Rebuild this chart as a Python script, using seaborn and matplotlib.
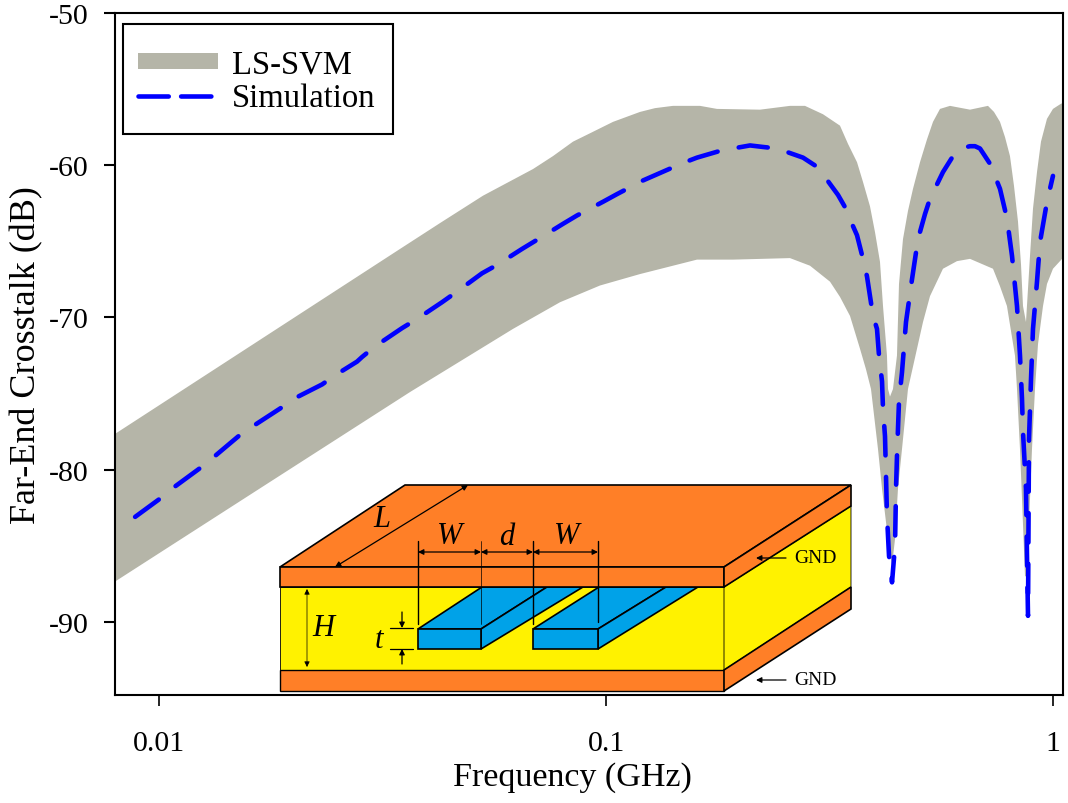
"""Far-end crosstalk vs frequency: LS-SVM band, simulation curve, stripline sketch."""

import matplotlib.pyplot as plt
import numpy as np
import pandas as pd
import seaborn as sns
from matplotlib.lines import Line2D
from matplotlib.patches import Patch, Polygon, Rectangle

SIM_FREQ = [
    0.00884, 0.01016, 0.01086, 0.01248, 0.01334, 0.01534, 0.0164, 0.01884, 0.02015, 0.02316,
    0.02476, 0.02773, 0.02845, 0.03042, 0.03497, 0.03777, 0.04296, 0.04642, 0.05279, 0.05703,
    0.06487, 0.07009, 0.08013, 0.08612, 0.09847, 0.1058, 0.121, 0.13, 0.1487, 0.1598,
    0.1827, 0.1964, 0.21, 0.2245, 0.2413, 0.258, 0.2759, 0.2965, 0.3138, 0.3304,
    0.3425, 0.3551, 0.3644, 0.3739, 0.3836, 0.3957, 0.4039, 0.4081, 0.4145, 0.4166,
    0.4209, 0.4231, 0.4252, 0.4297, 0.4364, 0.4432, 0.4455, 0.4477, 0.4524, 0.4594,
    0.469, 0.4837, 0.4989, 0.5173, 0.5307, 0.5674, 0.5975, 0.6194, 0.6522, 0.6691,
    0.6866, 0.7045, 0.7228, 0.7611, 0.789, 0.8097, 0.8308, 0.8437, 0.8525, 0.8569,
    0.8702, 0.8747, 0.8793, 0.8838, 0.893, 0.9022, 0.921, 0.9354, 0.9696, 1.0,
]
SIM_DB = [
    -83.1, -81.8, -81.1, -79.8, -79.1, -77.6, -77.05, -75.9, -75.3, -74.4,
    -73.8, -72.9, -72.6, -71.9, -70.7, -70.1, -69.0, -68.3, -67.1, -66.55,
    -65.5, -64.9, -63.85, -63.3, -62.4, -61.9, -61.0, -60.6, -59.85, -59.5,
    -59.0, -58.85, -58.7, -58.8, -58.9, -59.2, -59.5, -60.1, -61.05, -61.95,
    -62.75, -63.85, -64.6, -65.9, -67.3, -69.9, -70.75, -72.5, -74.2, -76.0,
    -77.8, -80.4, -83.0, -85.65, -87.4, -85.0, -81.25, -79.1, -75.5, -73.6,
    -70.3, -67.5, -64.85, -63.2, -62.2, -60.45, -59.4, -58.9, -58.75, -58.75,
    -58.9, -59.4, -59.9, -61.55, -63.5, -65.95, -69.25, -72.5, -75.35, -77.5,
    -81.25, -85.65, -89.6, -78.0, -74.05, -70.75, -67.65, -65.05, -62.4, -60.7,
]

UPPER_FREQ = [
    0.00797, 0.0346, 0.04252, 0.05307, 0.06866, 0.0761, 0.08437, 0.0921, 0.1037, 0.1191,
    0.1287, 0.1412, 0.1623, 0.1771, 0.2211, 0.258, 0.2787, 0.3058, 0.3338, 0.3479,
    0.3644, 0.3758, 0.3896, 0.3998, 0.4102, 0.4166, 0.4252, 0.4275, 0.4319, 0.4386,
    0.4477, 0.4524, 0.4618, 0.4738, 0.4862, 0.5041, 0.5226, 0.539, 0.5588, 0.5883,
    0.6522, 0.7155, 0.738, 0.7611, 0.781, 0.8013, 0.818, 0.8351, 0.8481, 0.8569,
    0.8702, 0.8884, 0.9022, 0.921, 0.9401, 0.9696, 1.0, 1.037, 1.053,
]
UPPER_DB = [
    -77.65, -65.5, -63.8, -62.0, -60.25, -59.4, -58.45, -57.9, -57.15, -56.5,
    -56.25, -56.1, -56.1, -56.3, -56.35, -56.1, -56.1, -56.65, -57.4, -58.6,
    -59.8, -61.1, -62.7, -64.4, -66.35, -69.25, -72.5, -74.7, -75.2, -74.7,
    -72.5, -67.8, -64.85, -63.0, -61.55, -59.8, -58.3, -57.15, -56.3, -56.1,
    -56.35, -56.1, -56.5, -57.15, -58.15, -59.4, -61.35, -63.7, -66.5, -69.25,
    -70.3, -65.95, -62.85, -60.45, -58.45, -56.95, -56.3, -56.0, -55.9,
]
LOWER_FREQ = [
    0.00797, 0.01772, 0.03643, 0.06194, 0.0789, 0.09696, 0.1191, 0.1598, 0.1924, 0.258,
    0.286, 0.3171, 0.3338, 0.3515, 0.37, 0.3816, 0.3916, 0.406, 0.4145, 0.4275,
    0.4364, 0.4432, 0.45, 0.4594, 0.4738, 0.5119, 0.5307, 0.5674, 0.6099, 0.6522,
    0.7342, 0.7611, 0.789, 0.8056, 0.8222, 0.8308, 0.8437, 0.8525, 0.8658, 0.8747,
    0.8884, 0.8975, 0.9115, 0.9258, 0.9499, 0.9696, 1.0, 1.048, 1.053,
]
LOWER_DB = [
    -87.35, -80.8, -74.9, -70.75, -69.0, -67.9, -67.15, -66.2, -66.2, -66.1,
    -66.6, -67.65, -68.65, -69.9, -72.05, -73.4, -74.7, -78.65, -81.25, -84.55,
    -86.3, -84.55, -81.25, -78.65, -74.7, -70.3, -68.6, -66.8, -66.3, -66.15,
    -66.8, -67.95, -69.25, -70.9, -72.5, -74.7, -78.65, -81.9, -87.0, -87.0,
    -81.9, -78.65, -74.7, -71.75, -69.25, -67.8, -66.8, -66.15, -66.1,
]

X_TICKS = [0.01, 0.1, 1]
X_TICK_LABELS = ["0.01", "0.1", "1"]
Y_TICKS = [-50, -60, -70, -80, -90]
Y_TICK_LABELS = ["-50", "-60", "-70", "-80", "-90"]

BAND = "#B5B5A8"
BLUE = "#0000FF"
ORANGE = "#FF7F27"
YELLOW = "#FFF200"
CYAN = "#00A2E8"

sns.set_theme(
    style="ticks",
    rc={
        "text.color": "black",
        "axes.labelcolor": "black",
        "axes.edgecolor": "black",
        "xtick.color": "black",
        "ytick.color": "black",
        "axes.linewidth": 1.5,
    },
)
plt.rcParams["font.family"] = ["Liberation Serif", "DejaVu Serif"]

fig = plt.figure(figsize=(10.68, 8.04), dpi=100)
ax = fig.add_axes([115 / 1068, 1 - 696 / 804, 948 / 1068, 682 / 804])
ax.set_xscale("log")

ax.fill(
    np.r_[UPPER_FREQ, LOWER_FREQ[::-1]],
    np.r_[UPPER_DB, LOWER_DB[::-1]],
    color=BAND,
    linewidth=0,
)
sim = pd.DataFrame({"freq": SIM_FREQ, "db": SIM_DB})
sns.lineplot(
    data=sim,
    x="freq",
    y="db",
    estimator=None,
    sort=False,
    color=BLUE,
    linewidth=3.3,
    linestyle=(0, (6.4, 4.7)),
    dash_capstyle="round",
    ax=ax,
)

ax.set_xlim(0.00797, 1.053)
ax.set_ylim(-94.8, -50)
ax.set_xticks(X_TICKS, X_TICK_LABELS)
ax.set_yticks(Y_TICKS, Y_TICK_LABELS)
ax.minorticks_off()
ax.tick_params(axis="x", length=8, width=1.2, pad=17, labelsize=21.5)
ax.tick_params(axis="y", length=8, width=1.5, pad=11, labelsize=21.5)
ax.set_xlabel("Frequency (GHz)", fontsize=24.5)
ax.xaxis.set_label_coords(457 / 948, -66 / 682)
ax.set_ylabel("Far-End Crosstalk (dB)", fontsize=26, labelpad=4)

handles = [
    Patch(facecolor=BAND, edgecolor="none"),
    Line2D([], [], color=BLUE, linewidth=3.3, linestyle=(0, (6.6, 2.7)), dash_capstyle="round"),
]
leg = ax.legend(
    handles,
    ["LS-SVM", "Simulation"],
    loc="upper left",
    bbox_to_anchor=(5 / 948, 1 - 18 / 682),
    borderaxespad=0,
    fontsize=23.5,
    handlelength=2.45,
    handleheight=0.4,
    handletextpad=0.43,
    labelspacing=0.1,
    borderpad=0.55,
    frameon=False,
)

# stripline sketch, laid over the plot in picture coordinates
sketch = fig.add_axes([0, 0, 1, 1])
sketch.set_xlim(0, 1068)
sketch.set_ylim(804, 0)
sketch.axis("off")

sketch.add_patch(Rectangle((123, 25), 270, 110, fill=False, edgecolor="black", linewidth=1.5))


def shape(points, color, lw=1.2):
    sketch.add_patch(Polygon(points, closed=True, facecolor=color, edgecolor="black", linewidth=lw))


def dim_arrow(start, end, style="<|-|>", lw=0.9, size=8):
    sketch.annotate(
        "",
        xy=end,
        xytext=start,
        arrowprops=dict(arrowstyle=style, color="black", lw=lw, mutation_scale=size, shrinkA=0, shrinkB=0),
    )


shape([(280, 588), (724, 588), (724, 671), (280, 671)], YELLOW, lw=0.6)
shape([(724, 588), (851, 507), (851, 588), (724, 671)], YELLOW, lw=0.6)
shape([(280, 671), (724, 671), (724, 692), (280, 692)], ORANGE, lw=1.0)
shape([(724, 671), (851, 588), (851, 610), (724, 692)], ORANGE)

shape([(418, 630), (481, 630), (547, 588), (482, 588)], CYAN)
shape([(481, 630), (481, 650), (583, 588), (547, 588)], CYAN)
shape([(418, 630), (481, 630), (481, 650), (418, 650)], CYAN)
shape([(533, 630), (598, 630), (666, 588), (599, 588)], CYAN)
shape([(598, 630), (598, 650), (698, 588), (666, 588)], CYAN)
shape([(533, 630), (598, 630), (598, 650), (533, 650)], CYAN)

shape([(405, 486), (851, 486), (724, 568), (280, 568)], ORANGE)
shape([(280, 568), (724, 568), (724, 588), (280, 588)], ORANGE)
shape([(724, 568), (851, 486), (851, 507), (724, 588)], ORANGE)

for x_pos, top, bottom, lw in [(418, 542, 625, 1.0), (481, 542, 625, 0.5), (533, 542, 625, 1.0), (598, 542, 623, 1.0)]:
    sketch.plot([x_pos, x_pos], [top, bottom], color="black", linewidth=lw)

dim_arrow((418, 553), (481, 553))
dim_arrow((481, 553), (533, 553))
dim_arrow((533, 553), (598, 553))
dim_arrow((335, 568), (468, 486))
dim_arrow((307, 590), (307, 668), lw=0.5)
sketch.plot([390, 413], [629, 629], color="black", linewidth=0.9)
sketch.plot([390, 413], [650, 650], color="black", linewidth=0.9)
dim_arrow((402, 613), (402, 629), style="-|>")
dim_arrow((402, 665), (402, 650), style="-|>")
dim_arrow((786, 559), (756, 559), style="-|>")
dim_arrow((786, 681), (756, 681), style="-|>")

for label, x_pos, y_pos in [("L", 382, 520), ("W", 450, 537), ("d", 507, 538), ("W", 567, 537), ("H", 323, 629), ("t", 379, 641)]:
    sketch.text(x_pos, y_pos, label, style="italic", fontsize=22, ha="center", va="center")
sketch.text(815, 559, "GND", fontsize=14, ha="center", va="center")
sketch.text(815, 681, "GND", fontsize=14, ha="center", va="center")

fig.savefig("out.png", dpi=100)
